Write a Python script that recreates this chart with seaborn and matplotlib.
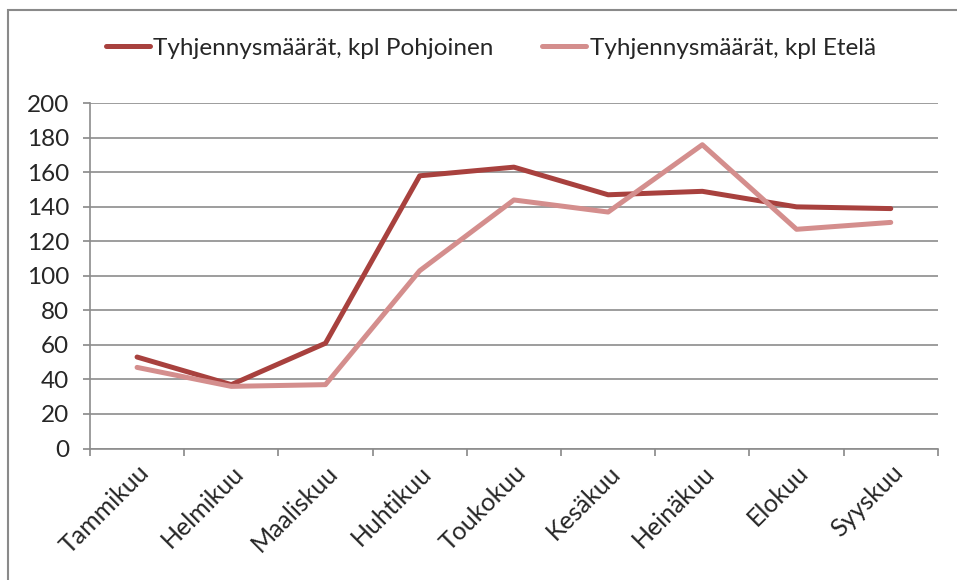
import numpy as np
import pandas as pd
import seaborn as sb
from matplotlib import pyplot as plt
from matplotlib.patches import Rectangle

months = ["Tammikuu", "Helmikuu", "Maaliskuu", "Huhtikuu", "Toukokuu",
          "Kesäkuu", "Heinäkuu", "Elokuu", "Syyskuu"]
pohjoinen = [53, 37, 61, 158, 163, 147, 149, 140, 139]
etela = [47, 36, 37, 103, 144, 137, 176, 127, 131]
series_names = ["Tyhjennysmäärät, kpl Pohjoinen", "Tyhjennysmäärät, kpl Etelä"]
colors = ["#A8413E", "#D48E8D"]

df = pd.DataFrame({
    "kk": months * 2,
    "x": list(range(len(months))) * 2,
    "arvo": pohjoinen + etela,
    "sarja": [series_names[0]] * len(months) + [series_names[1]] * len(months),
})

sb.set_style("white")
plt.rcParams["font.family"] = ["Lato", "DejaVu Sans"]

fig = plt.figure(figsize=(9.57, 5.8), dpi=100)
ax = fig.add_axes([0.094, 0.2267, 0.886, 0.5952])

sb.lineplot(data=df, x="x", y="arvo", hue="sarja", palette=colors,
            linewidth=3.6, ax=ax, legend=True)
for ln in ax.get_lines():
    ln.set_solid_capstyle("round")

ax.set_xlim(-0.5, len(months) - 0.5)
ax.set_ylim(0, 200)
ax.set_yticks(np.arange(0, 201, 20))
ax.set_xticks(range(len(months)))
ax.set_xticklabels(months, rotation=45, ha="right", rotation_mode="anchor")
ax.set_xticks(np.arange(-0.5, len(months)), minor=True)
ax.tick_params(axis="x", which="major", length=0, pad=9, labelsize=18)
ax.tick_params(axis="x", which="minor", length=5, width=1.2, color="#888888",
               direction="out", bottom=True)
ax.tick_params(axis="y", length=5, width=1.2, color="#888888",
               direction="out", left=True, labelsize=17.5, pad=10)
ax.set_xlabel("")
ax.set_ylabel("")
ax.grid(axis="y", color="#8c8c8c", linewidth=1.2)
ax.set_axisbelow(True)
for s in ["top", "right"]:
    ax.spines[s].set_visible(False)
for s in ["left", "bottom"]:
    ax.spines[s].set_color("#8c8c8c")
    ax.spines[s].set_linewidth(1.2)

handles, labels = ax.get_legend_handles_labels()
ax.get_legend().remove()
fig.legend(handles, labels, loc="center", bbox_to_anchor=(0.513, 0.917),
           ncol=2, frameon=False, fontsize=17.5, handlelength=1.8,
           handletextpad=0.15, columnspacing=2.0)

fig.patches.append(Rectangle((8 / 957, -0.1), 1.2, 1.1 - 10 / 580,
                             transform=fig.transFigure, fill=False,
                             edgecolor="#8a8a8a", linewidth=1.5))

fig.savefig("out.png", dpi=100)
